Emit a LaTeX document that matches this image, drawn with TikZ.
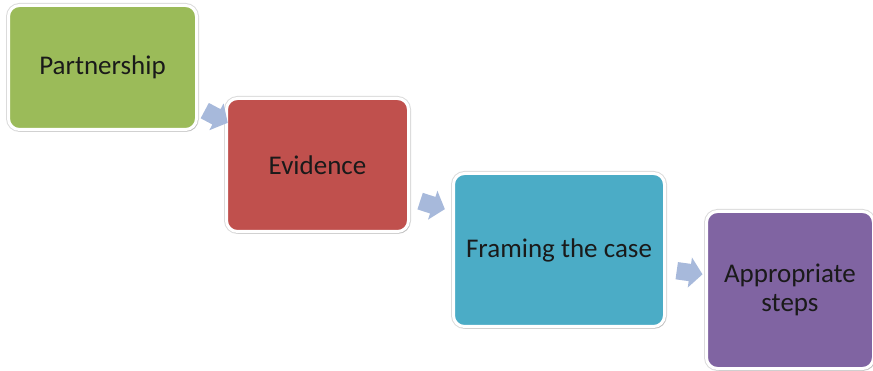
\documentclass[tikz,border=0pt]{standalone}
\usepackage{fontspec}
\setmainfont{Carlito}
\usetikzlibrary{shapes.arrows,shadows}
\definecolor{cgreen}{HTML}{9BBB59}
\definecolor{cred}{HTML}{C0504D}
\definecolor{cblue}{HTML}{4BACC6}
\definecolor{cpurple}{HTML}{8064A2}
\definecolor{carrow}{HTML}{A7B9DB}
\definecolor{ctext}{HTML}{1A1A1A}
\tikzset{
  stepbox/.style={draw=white, line width=3pt, rounded corners=11pt,
    text=ctext, font=\fontsize{27}{29}\selectfont, align=center,
    preaction={draw=black!14, line width=5pt},
    drop shadow={opacity=0.3, shadow xshift=1.5pt, shadow yshift=-2pt}},
  flowarrow/.style={single arrow, fill=carrow, draw=none, inner sep=8.5pt,
    minimum height=26pt, single arrow head extend=6.5pt, single arrow tip angle=100}
}
\begin{document}
\begin{tikzpicture}[x=1pt,y=-1pt]
\useasboundingbox (0,0) rectangle (873,371);
\node[stepbox, fill=cgreen, minimum width=188pt, minimum height=124pt] (p) at (102.5,67.5) {Partnership};
\node[stepbox, fill=cred, minimum width=182pt, minimum height=133pt] (e) at (317.5,165) {Evidence};
\node[stepbox, fill=cblue, minimum width=211pt, minimum height=153pt] (f) at (559,250) {Framing the case};
\node[stepbox, fill=cpurple, minimum width=167pt, minimum height=157pt] (a) at (790,290) {Appropriate\\steps};
\node[flowarrow, rotate=-28] (a1) at (213,115) {};
\node[flowarrow, rotate=-18] (a2) at (429,204) {};
\node[flowarrow, rotate=-8] (a3) at (686,272) {};
\end{tikzpicture}
\end{document}
